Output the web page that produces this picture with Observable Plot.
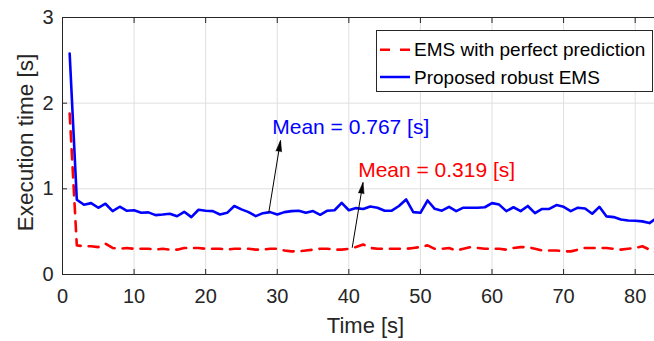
<!DOCTYPE html>
<html><head><meta charset="utf-8">
<script src="https://cdn.jsdelivr.net/npm/d3@7"></script>
<script src="https://cdn.jsdelivr.net/npm/@observablehq/plot@0.6"></script>
<style>
body{margin:0;background:#fff;}
#wrap{position:relative;width:654px;height:341px;font-family:"Liberation Sans",Arial,Helvetica,sans-serif;}
#legend{position:absolute;left:376px;top:30px;width:275px;height:60px;border:1px solid #262626;background:#fff;}
#legend .row{position:absolute;left:37px;height:20px;line-height:20px;font-size:19px;color:#000;white-space:nowrap;}
#legend svg{position:absolute;left:0;top:0;}
</style>
</head><body>
<div id="wrap"></div>
<script>
const timeSec = [1,2,3,4,5,6,7,8,9,10,11,12,13,14,15,16,17,18,19,20,21,22,23,24,25,26,27,28,29,30,31,32,33,34,35,36,37,38,39,40,41,42,43,44,45,46,47,48,49,50,51,52,53,54,55,56,57,58,59,60,61,62,63,64,65,66,67,68,69,70,71,72,73,74,75,76,77,78,79,80,81,82,83];
const perfect = [1.88,0.34,0.33,0.33,0.32,0.36,0.31,0.30,0.31,0.30,0.30,0.30,0.29,0.30,0.29,0.29,0.31,0.31,0.31,0.30,0.30,0.30,0.29,0.30,0.30,0.30,0.29,0.29,0.30,0.30,0.28,0.27,0.27,0.28,0.29,0.30,0.30,0.29,0.29,0.30,0.32,0.35,0.31,0.30,0.30,0.30,0.30,0.30,0.31,0.32,0.34,0.30,0.30,0.31,0.28,0.30,0.32,0.31,0.30,0.30,0.30,0.29,0.31,0.32,0.32,0.30,0.28,0.28,0.28,0.27,0.27,0.29,0.31,0.31,0.31,0.31,0.30,0.29,0.30,0.31,0.33,0.29,0.26];
const robust = [2.58,0.873,0.814,0.833,0.779,0.826,0.740,0.791,0.744,0.750,0.721,0.725,0.693,0.700,0.710,0.680,0.732,0.670,0.756,0.745,0.740,0.700,0.720,0.800,0.760,0.728,0.681,0.716,0.728,0.700,0.728,0.740,0.745,0.720,0.740,0.697,0.745,0.750,0.837,0.750,0.775,0.765,0.794,0.780,0.745,0.745,0.800,0.876,0.728,0.720,0.864,0.767,0.745,0.790,0.740,0.780,0.780,0.780,0.785,0.833,0.816,0.740,0.785,0.740,0.800,0.716,0.765,0.765,0.810,0.790,0.740,0.780,0.770,0.709,0.790,0.678,0.670,0.643,0.630,0.628,0.620,0.600,0.660];
const seriesNames = ["EMS with perfect prediction", "Proposed robust EMS"];
const xTicks = [0,10,20,30,40,50,60,70,80];
const yTicks = [0,1,2,3];
const noteText = ["Mean = 0.767 [s]", "Mean = 0.319 [s]"];
const noteX = [29.3, 41.3];
const noteY = [1.72, 1.214];
const arrowX1 = [28.82, 40.47];
const arrowY1 = [0.727, 0.312];
const arrowX2 = [30.46, 41.98];
const arrowY2 = [1.564, 1.074];
const noteColor = ["#0000ff", "#ff0000"];

const rows = timeSec.map((t, i) => ({t, perfect: perfect[i], robust: robust[i]}));
const notes = noteText.map((s, i) => ({s, x: noteX[i], y: noteY[i], c: noteColor[i]}));
const arrows = arrowX1.map((x1, i) => ({x1, y1: arrowY1[i], x2: arrowX2[i], y2: arrowY2[i], angle: 0}));
const axisColor = "#262626";
const font = '"Liberation Sans",Arial,Helvetica,sans-serif';

function makeChart(withHeads) {
  return Plot.plot({
    width: 654, height: 341,
    marginLeft: 62, marginRight: 0, marginTop: 17, marginBottom: 67,
    x: {domain: [0, 82.7], axis: null},
    y: {domain: [0, 3], axis: null},
    style: {fontFamily: font, background: "white", color: axisColor, overflow: "visible"},
    marks: [
      Plot.gridX(xTicks, {stroke: "#dfdfdf", strokeOpacity: 1}),
      Plot.gridY(yTicks, {stroke: "#dfdfdf", strokeOpacity: 1}),
      Plot.line(rows, {x: "t", y: "perfect", stroke: "#ff0000", strokeWidth: 2.6, strokeDasharray: "10,8", clip: true}),
      Plot.line(rows, {x: "t", y: "robust", stroke: "#0000ff", strokeWidth: 2.6, clip: true}),
      Plot.ruleY([0, 3], {stroke: axisColor, strokeWidth: 1}),
      Plot.ruleX([0], {stroke: axisColor, strokeWidth: 1}),
      Plot.axisX({ticks: xTicks, tickSize: -5, tickPadding: 19.5, fontSize: 20, label: null, tickFormat: d3.format("d"), stroke: axisColor, fill: axisColor}),
      Plot.axisX({anchor: "top", ticks: xTicks, tickSize: -5, tickFormat: () => "", label: null, stroke: axisColor}),
      Plot.axisY({ticks: yTicks, tickSize: -5, tickPadding: 14, fontSize: 20, label: null, tickFormat: d3.format("d"), stroke: axisColor, fill: axisColor}),
      Plot.link(arrows, {x1: "x1", y1: "y1", x2: "x2", y2: "y2", stroke: "black", strokeWidth: 1}),
      withHeads ? Plot.vector(arrows, {x: "x2", y: "y2", rotate: "angle", length: 11, r: 2.8, shape: "spike", anchor: "end", fill: "black", stroke: "black", strokeWidth: 0.6}) : null,
      Plot.text(notes, {x: "x", y: "y", text: "s", fill: "c", fontSize: 21, textAnchor: "start", lineAnchor: "middle"}),
      Plot.text(["Time [s]"], {frameAnchor: "bottom", dx: 7, dy: 42.7, lineAnchor: "top", textAnchor: "middle", fontSize: 22, fill: axisColor}),
      Plot.text(["Execution time [s]"], {frameAnchor: "left", dx: -45, dy: -3.5, rotate: -90, lineAnchor: "top", textAnchor: "middle", fontSize: 22.5, fill: axisColor})
    ]
  });
}

// first pass: read the scales to orient the arrowheads in screen space
const probe = makeChart(false);
const sx = probe.scale("x"), sy = probe.scale("y");
for (const a of arrows) {
  const dx = sx.apply(a.x2) - sx.apply(a.x1);
  const dy = sy.apply(a.y2) - sy.apply(a.y1);
  a.angle = Math.atan2(dx, -dy) * 180 / Math.PI;
}
const chart = makeChart(true);
const wrap = document.getElementById("wrap");
wrap.appendChild(chart);

const legend = document.createElement("div");
legend.id = "legend";
legend.innerHTML = `<svg width="275" height="60">
  <line x1="3" x2="33" y1="18.7" y2="18.7" stroke="#ff0000" stroke-width="2.5" stroke-dasharray="10,10"/>
  <line x1="3" x2="33" y1="46" y2="46" stroke="#0000ff" stroke-width="2.5"/>
</svg>
<div class="row" style="top:8.7px">${seriesNames[0]}</div>
<div class="row" style="top:37.3px">${seriesNames[1]}</div>`;
wrap.appendChild(legend);
</script>
</body></html>
